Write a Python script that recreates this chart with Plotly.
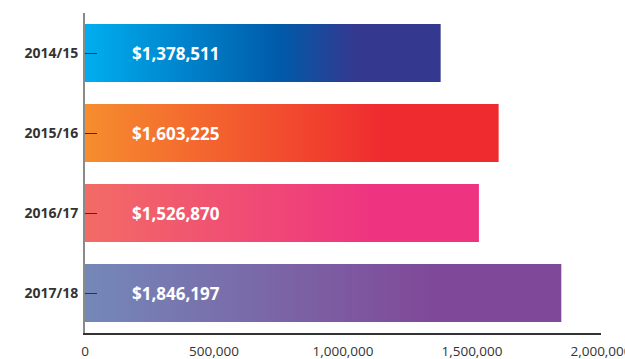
import plotly.graph_objects as go

# Annual totals by financial year
years = ["2014/15", "2015/16", "2016/17", "2017/18"]
totals = [1378511, 1603225, 1526870, 1846197]

# Horizontal colour ramps for each bar (left -> right)
ramps = [
    [[0, "#00AEEF"], [0.55, "#005AA9"], [0.76, "#34388F"], [1, "#34388F"]],
    [[0, "#F68D2E"], [0.72, "#EF2B2F"], [1, "#EF2B2F"]],
    [[0, "#F26B65"], [0.74, "#EE3381"], [1, "#EE3381"]],
    [[0, "#7488B8"], [0.74, "#804898"], [1, "#804898"]],
]

x_ticks = [0, 500000, 1000000, 1500000, 2000000]
x_ticktext = ["0", "500,000", "1,000,000", "1,500,000", "2,000,000"]

BAR_WIDTH = 0.725
LABEL_X = 176000

fig = go.Figure()

for i, (yr, v, cs) in enumerate(zip(years, totals, ramps)):
    h = BAR_WIDTH / 2
    fig.add_trace(go.Scatter(
        x=[0, v, v, 0, 0],
        y=[i - h, i - h, i + h, i + h, i - h],
        mode="lines",
        line=dict(width=0),
        fill="toself",
        fillgradient=dict(type="horizontal", colorscale=cs),
        hoverinfo="skip",
        showlegend=False,
    ))
    fig.add_annotation(
        x=LABEL_X, y=i, xref="x", yref="y",
        text=f"${v:,}", showarrow=False,
        xanchor="left", yanchor="middle",
        font=dict(family="Open Sans", size=17, color="white", weight="bold"),
    )

fig.update_layout(
    width=625, height=359,
    margin=dict(l=85, r=24, t=13, b=26),
    paper_bgcolor="white",
    plot_bgcolor="white",
    showlegend=False,
    separators=".,",
    xaxis=dict(
        range=[0, 2000000],
        tickvals=x_ticks, ticktext=x_ticktext,
        showgrid=False, zeroline=False,
        showline=True, linecolor="#333333", linewidth=1.5,
        ticks="",
        automargin=False,
        ticklabeloverflow="allow",
        ticklabelstandoff=5,
        tickfont=dict(family="Open Sans", size=13.5, color="#333333"),
    ),
    yaxis=dict(
        range=[3.5, -0.5],
        tickvals=list(range(len(years))), ticktext=years,
        showgrid=False, zeroline=False,
        showline=True, linecolor="#8a8a8a", linewidth=2,
        ticks="inside", ticklen=12, tickcolor="#333333", tickwidth=1,
        automargin=False,
        ticklabelstandoff=2,
        tickfont=dict(family="Open Sans", size=14, color="#333333", weight="bold"),
    ),
)

fig.write_html("out.html")
